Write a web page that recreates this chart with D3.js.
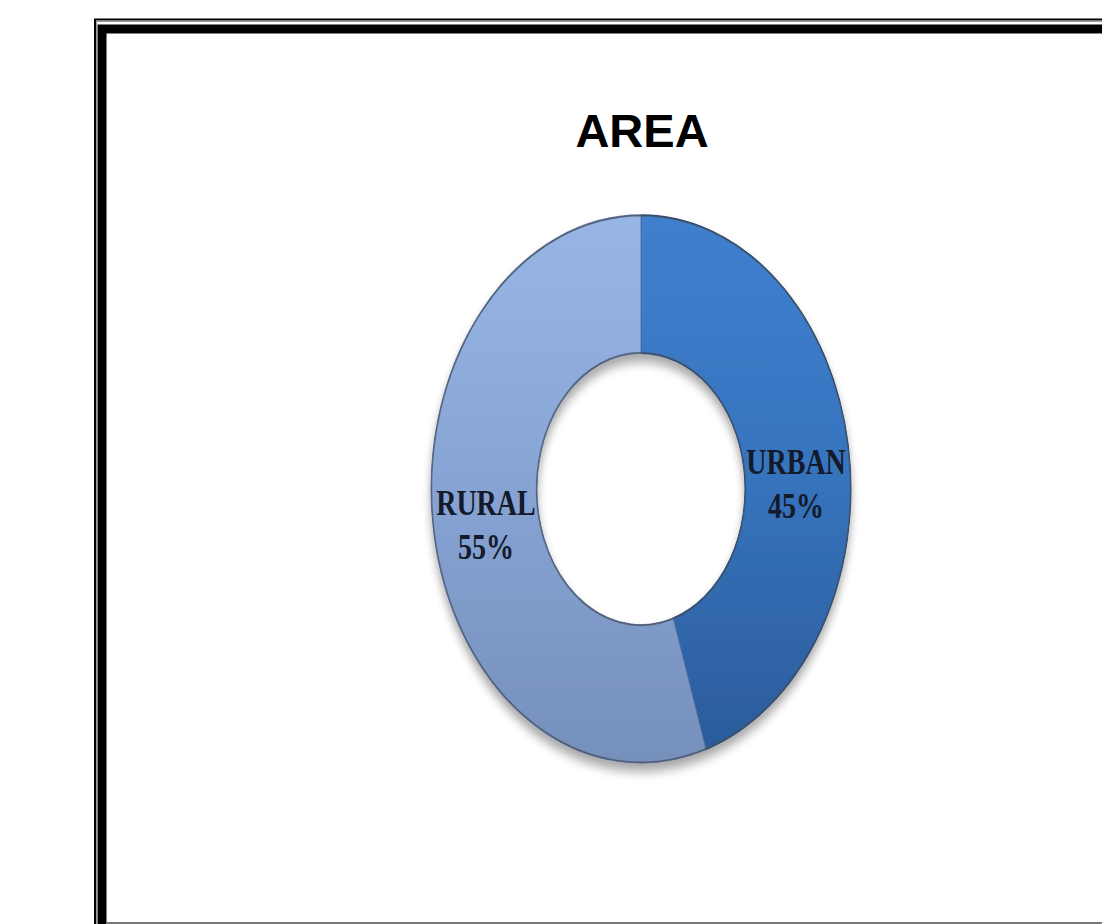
<!DOCTYPE html>
<html>
<head>
<meta charset="utf-8">
<script src="https://cdn.jsdelivr.net/npm/d3@7"></script>
<style>
  body { margin: 0; background: #fff; }
  svg { display: block; }
</style>
</head>
<body>
<svg id="chart" width="1102" height="924"></svg>
<script>
const categories = ["URBAN", "RURAL"];
const values = [45, 55];
const title = "AREA";

const width = 1102, height = 924;
const svg = d3.select("#chart");

// frame: thin outer line + thick black border, runs off the right/bottom edge
svg.append("rect")
    .attr("x", 95).attr("y", 19.5)
    .attr("width", 1100).attr("height", 1000)
    .attr("fill", "none").attr("stroke", "#000").attr("stroke-width", 2);
svg.append("rect")
    .attr("x", 102).attr("y", 29)
    .attr("width", 1100).attr("height", 1000)
    .attr("fill", "none").attr("stroke", "#000").attr("stroke-width", 9);
svg.append("rect")
    .attr("x", 96.5).attr("y", 21.5)
    .attr("width", 1100).attr("height", 1000)
    .attr("fill", "none").attr("stroke", "#9a9a9a").attr("stroke-width", 1);
svg.append("rect")
    .attr("x", 106).attr("y", 922)
    .attr("width", 1000).attr("height", 2)
    .attr("fill", "#777");

svg.append("text")
    .attr("x", 642).attr("y", 147)
    .attr("text-anchor", "middle")
    .style("font-family", "Arial, 'Liberation Sans', sans-serif")
    .style("font-weight", "bold")
    .style("font-size", "47px")
    .text(title);

const defs = svg.append("defs");

const gradStops = {
  URBAN: ["#3f80cf", "#3673bd", "#2b5c9b"],
  RURAL: ["#97b6e6", "#86a3d4", "#7690bc"]
};
categories.forEach(c => {
  const g = defs.append("linearGradient")
      .attr("id", `grad-${c}`)
      .attr("x1", 0).attr("y1", 0).attr("x2", 0).attr("y2", 1);
  g.append("stop").attr("offset", "0%").attr("stop-color", gradStops[c][0]);
  g.append("stop").attr("offset", "50%").attr("stop-color", gradStops[c][1]);
  g.append("stop").attr("offset", "100%").attr("stop-color", gradStops[c][2]);
});

const shadow = defs.append("filter").attr("id", "shadow")
    .attr("x", "-20%").attr("y", "-20%").attr("width", "140%").attr("height", "140%");
shadow.append("feGaussianBlur").attr("in", "SourceAlpha").attr("stdDeviation", 4);
shadow.append("feOffset").attr("dx", 0).attr("dy", 6).attr("result", "blur");
shadow.append("feComponentTransfer").append("feFuncA").attr("type", "linear").attr("slope", 0.35);
const merge = shadow.append("feMerge");
merge.append("feMergeNode");
merge.append("feMergeNode").attr("in", "SourceGraphic");

const cx = 641, cy = 489;
const outerR = 210, innerR = 104;
const stretch = 274 / 210;

const pie = d3.pie().sort(null).value(d => d.value);
const arc = d3.arc().innerRadius(innerR).outerRadius(outerR);
const data = categories.map((c, i) => ({ name: c, value: values[i] }));
const arcs = pie(data);

const g = svg.append("g")
    .attr("transform", `translate(${cx},${cy}) scale(1,${stretch})`);

g.append("g").attr("filter", "url(#shadow)")
  .selectAll("path")
  .data(arcs)
  .join("path")
    .attr("d", arc)
    .attr("fill", d => `url(#grad-${d.data.name})`)
    .attr("stroke", d => d.data.name === "URBAN" ? "#24497a" : "#5f78a3")
    .attr("stroke-width", 1);

// dark rim on the outer and inner edge
const full = { startAngle: 0, endAngle: 2 * Math.PI };
g.append("path")
    .attr("d", d3.arc().innerRadius(outerR - 1.2).outerRadius(outerR)(full))
    .attr("fill", "#4a4f58").attr("opacity", 0.7);
g.append("path")
    .attr("d", d3.arc().innerRadius(innerR).outerRadius(innerR + 1.2)(full))
    .attr("fill", "#4a4f58").attr("opacity", 0.7);

const labelNudge = [19, 1];
const labels = g.selectAll("text.lbl")
  .data(arcs)
  .join("text")
    .attr("class", "lbl")
    .attr("text-anchor", "middle")
    .attr("transform", (d, i) => {
      const [x, y] = arc.centroid(d);
      return `translate(${x},${y + labelNudge[i]})`;
    })
    .style("font-family", "'Liberation Serif', 'Times New Roman', serif")
    .style("font-weight", "bold")
    .style("font-size", "28px")
    .attr("fill", "#141a2a");
labels.append("tspan").attr("x", 0).attr("dy", -6).text(d => d.data.name);
labels.append("tspan").attr("x", 0).attr("dy", 34).text(d => d.data.value + "%");
</script>
</body>
</html>
